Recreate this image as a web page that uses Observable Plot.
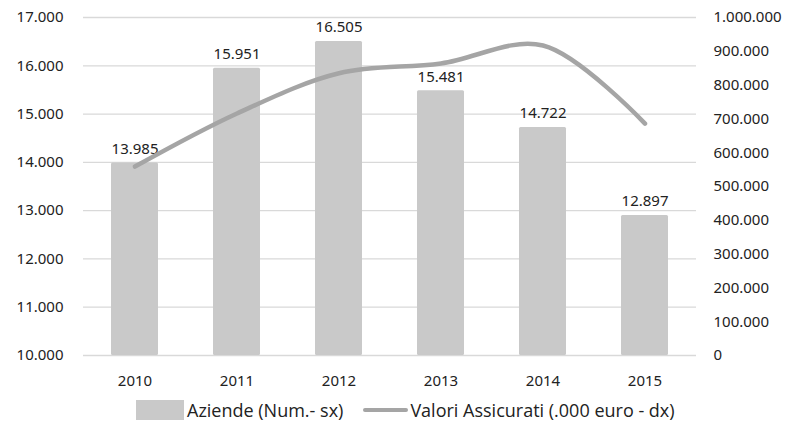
<!DOCTYPE html>
<html><head><meta charset="utf-8">
<script src="https://cdn.jsdelivr.net/npm/d3@7"></script>
<script src="https://cdn.jsdelivr.net/npm/@observablehq/plot@0.6"></script>
<style>
body{margin:0;background:#fff;}
#chart svg{font-family:"Noto Sans",sans-serif;}
.legend{display:flex;align-items:center;height:28px;font-family:"Open Sans",sans-serif;font-size:18px;color:#222;padding-left:136px;}
.sw{display:inline-block;}
</style></head>
<body>
<div id="chart"></div>
<div class="legend">
<span class="sw" style="width:48px;height:20px;background:#c9c9c9;margin-right:3px;"></span><span>Aziende (Num.- sx)</span>
<span class="sw" style="width:45px;height:4px;background:#a5a5a5;margin-left:20px;margin-right:2px;border-radius:2px;"></span><span>Valori Assicurati (.000 euro - dx)</span>
</div>
<script>
const years = ["2010","2011","2012","2013","2014","2015"];
const aziende = [13985, 15951, 16505, 15481, 14722, 12897];
const valori = [559000, 716000, 835000, 864000, 917000, 686000];
const leftTicks = [10000,11000,12000,13000,14000,15000,16000,17000];
const rightTicks = [0,100000,200000,300000,400000,500000,600000,700000,800000,900000,1000000];

const loc = d3.formatLocale({decimal:",", thousands:".", grouping:[3], currency:["","€"]});
const fmt = loc.format(",d");
const toLeft = v => 10000 + v * 7000 / 1000000;

const data = years.map((y,i)=>({year:y, a:aziende[i], v:valori[i]}));

const chart = Plot.plot({
  width: 797, height: 396,
  marginTop: 17, marginBottom: 41, marginLeft: 83, marginRight: 101,
  style: {fontSize: "15px", color: "#222"},
  x: {domain: years, paddingInner: 0.54, paddingOuter: 0.27, label: null},
  y: {domain: [10000, 17000], label: null},
  marks: [
    Plot.gridY(leftTicks, {stroke: "#d9d9d9", strokeOpacity: 1, strokeWidth: 1.3}),
    Plot.barY(data, {x: "year", y1: 10000, y2: "a", fill: "#c9c9c9", rx: 1.5}),
    Plot.text(data, {x: "year", y: "a", text: d => fmt(d.a), dy: -14, fontSize: 15, fill: "#222"}),
    Plot.line(data, {x: "year", y: d => toLeft(d.v), stroke: "#a5a5a5", strokeWidth: 4.5, curve: "catmull-rom", strokeLinecap: "round"}),
    Plot.axisX({tickSize: 0, tickPadding: 20, label: null, fontSize: 15, fontWeight: "normal"}),
    Plot.axisY(leftTicks, {anchor: "left", tickSize: 0, tickPadding: 20, tickFormat: fmt, label: null, fontSize: 15}),
    Plot.axisY(rightTicks.map(toLeft), {anchor: "right", tickSize: 0, tickPadding: 17, tickFormat: d => fmt(Math.round((d-10000)/7000*1000000)), label: null, fontSize: 15})
  ]
});
document.getElementById("chart").append(chart);
</script>
</body></html>
